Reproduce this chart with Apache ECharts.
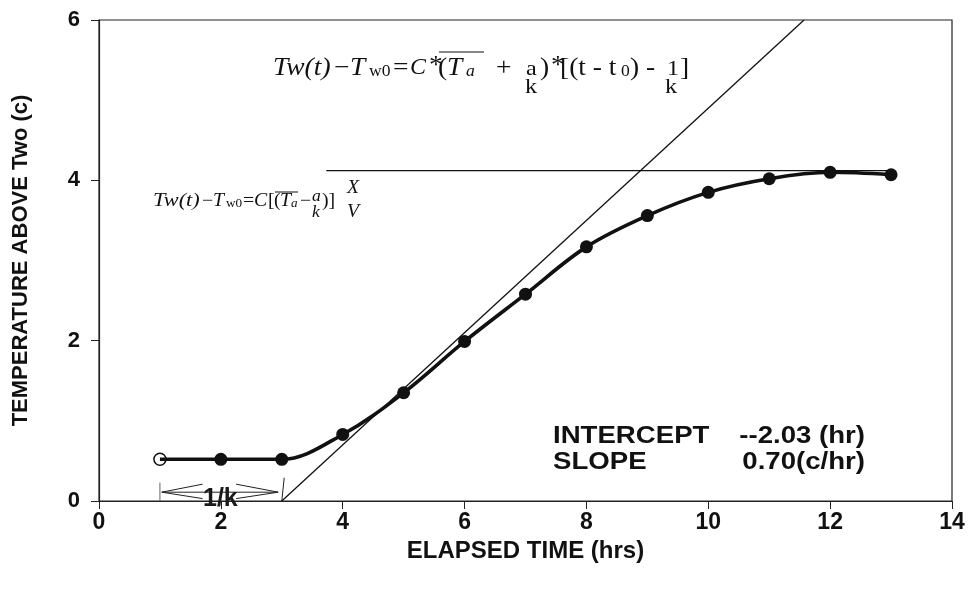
<!DOCTYPE html>
<html lang="en" style="height: 100%">
<head>
  <meta charset="utf-8">
</head>
<body style="height: 100%; margin: 0; background: #fff">
  <div id="container" style="width: 969px; height: 590px"></div>
  <script type="text/javascript" src="https://cdn.jsdelivr.net/npm/echarts@6/dist/echarts.min.js"></script>
  <script type="text/javascript">
    // measured temperatures, hourly
    const hours = [1, 2, 3, 4, 5, 6, 7, 8, 9, 10, 11, 12, 13];
    const tempAbove = [0.52, 0.52, 0.52, 0.83, 1.35, 1.99, 2.58, 3.17, 3.56, 3.85, 4.02, 4.10, 4.07];
    const xTicks = [0, 2, 4, 6, 8, 10, 12, 14];
    const yTicks = [0, 2, 4, 6];

    // fitted tangent: crosses zero at t = 3, slope 0.70 c/hr
    const tangentStart = 3;
    const tangentSlope = 0.70;
    const plateauLevel = 4.12;
    const plateauRange = [3.73, 12.95];

    // 1/k bracket under the curve
    const kFrom = 1;
    const kTo = 3;

    var dom = document.getElementById('container');
    var myChart = echarts.init(dom, null, { renderer: 'canvas' });

    const sans = "'Liberation Sans', Arial, sans-serif";
    const serif = "'Liberation Serif', 'DejaVu Serif', serif";
    const ink = '#111';

    // one glyph run of a formula, stretched a bit to match the scan
    function piece(s, x, y, size, italic, sx) {
      return {
        type: 'text',
        x: x,
        y: y,
        scaleX: sx,
        silent: true,
        style: {
          text: s,
          font: (italic ? 'italic ' : '') + size + 'px ' + serif,
          fill: ink,
          align: 'left',
          verticalAlign: 'middle'
        }
      };
    }
    function bar(x1, x2, y) {
      return {
        type: 'line',
        silent: true,
        shape: { x1: x1, y1: y, x2: x2, y2: y },
        style: { stroke: ink, lineWidth: 1 }
      };
    }

    const s1 = 1.1;
    const formulaTop = [
      piece('Tw(t)', 273, 68, 25, true, s1),
      piece('\u2212', 334, 68, 25, false, s1),
      piece('T', 350, 68, 25, true, s1),
      piece('w0', 369, 72, 16, false, s1),
      piece('=', 393, 68, 25, false, s1),
      piece('C', 410, 68, 24, true, 1),
      piece('*', 429, 66, 25, false, s1),
      piece('(', 438, 68, 25, false, s1),
      piece('T', 447, 68, 25, true, s1),
      piece('a', 466, 72, 16, true, s1),
      bar(439, 484, 52),
      piece('+', 496, 68, 25, false, s1),
      piece('a', 526, 69, 22, false, s1),
      piece('k', 525, 87, 22, false, s1),
      piece(')', 540, 68, 25, false, s1),
      piece('*', 551, 66, 25, false, s1),
      piece('[(t - t', 560, 68, 25, false, s1),
      piece('0', 621, 72, 16, false, s1),
      piece(') - ', 630, 68, 25, false, s1),
      piece('1', 667, 69, 22, false, s1),
      piece('k', 665, 87, 22, false, s1),
      piece(']', 680, 68, 25, false, s1)
    ];

    const s2 = 1.1;
    const formulaLeft = [
      piece('Tw(t)', 153, 201, 18, true, 1.24),
      piece('\u2212', 202, 201, 18, false, s2),
      piece('T', 213, 201, 18, true, s2),
      piece('w0', 226, 204, 12, false, s2),
      piece('=', 243, 201, 18, false, s2),
      piece('C', 254, 201, 18, true, s2),
      piece('[', 268, 201, 18, false, s2),
      piece('(', 274, 201, 18, false, s2),
      piece('T', 280, 201, 18, true, s2),
      piece('a', 291, 204, 12, true, s2),
      bar(275, 298, 192),
      piece('\u2212', 300, 201, 18, false, s2),
      piece('a', 312, 197, 16, true, s2),
      piece('k', 312, 213, 16, true, s2),
      piece(')]', 322, 201, 18, false, s2),
      piece('X', 347, 188, 18, true, s2),
      piece('V', 347, 212, 18, true, s2)
    ];

    const tangentEnd = tangentStart + 6 / tangentSlope;
    const labelFont = { fontFamily: sans, fontWeight: 'bold', color: ink };

    const option = {
      animation: false,
      backgroundColor: '#fff',
      grid: {
        left: 99,
        right: 17,
        top: 20,
        bottom: 89,
        show: true,
        borderColor: '#222',
        borderWidth: 1.2,
        containLabel: false,
        outerBoundsMode: 'none'
      },
      xAxis: {
        type: 'value',
        min: xTicks[0],
        max: xTicks[xTicks.length - 1],
        interval: 2,
        name: 'ELAPSED TIME (hrs)',
        nameLocation: 'middle',
        nameGap: 36,
        nameTextStyle: Object.assign({ fontSize: 24 }, labelFont),
        axisLine: { lineStyle: { color: '#222', width: 1.2 } },
        axisTick: { inside: false, length: 8, lineStyle: { color: '#222' } },
        axisLabel: Object.assign({ fontSize: 23, margin: 10 }, labelFont),
        splitLine: { show: false }
      },
      yAxis: {
        type: 'value',
        min: yTicks[0],
        max: yTicks[yTicks.length - 1],
        interval: 2,
        name: 'TEMPERATURE ABOVE Two (c)',
        nameLocation: 'middle',
        nameGap: 67,
        nameTextStyle: Object.assign({ fontSize: 22 }, labelFont),
        axisLine: { lineStyle: { color: '#222', width: 1.2 } },
        axisTick: { inside: false, length: 8, lineStyle: { color: '#222' } },
        axisLabel: Object.assign({ fontSize: 22, margin: 19 }, labelFont),
        splitLine: { show: false }
      },
      series: [
        {
          type: 'line',
          name: 'tangent',
          data: [[tangentStart, 0], [tangentEnd, 6]],
          symbol: 'none',
          lineStyle: { color: ink, width: 1.3 },
          z: 2
        },
        {
          type: 'line',
          name: 'plateau',
          data: [[plateauRange[0], plateauLevel], [plateauRange[1], plateauLevel]],
          symbol: 'none',
          lineStyle: { color: ink, width: 1.2 },
          z: 2
        },
        {
          type: 'line',
          name: 'measured',
          data: hours.map(function (h, i) {
            if (i === 0) {
              return {
                value: [h, tempAbove[i]],
                symbolSize: 12,
                itemStyle: { color: 'rgba(0,0,0,0)', borderColor: ink, borderWidth: 1.5 }
              };
            }
            return [h, tempAbove[i]];
          }),
          smooth: 0.35,
          symbol: 'circle',
          symbolSize: 13,
          itemStyle: { color: ink },
          lineStyle: { color: ink, width: 3.6 },
          z: 3
        },
        {
          type: 'lines',
          coordinateSystem: 'cartesian2d',
          polyline: true,
          silent: true,
          lineStyle: { color: '#222', width: 1, opacity: 1 },
          data: [
            { coords: [[kFrom, 0], [kFrom, 0.23]], lineStyle: { color: '#666' } },
            { coords: [[kTo, 0], [kTo + 0.04, 0.29]] },
            { coords: [[kFrom + 0.03, 0.11], [kTo - 0.06, 0.11]] },
            { coords: [[kFrom + 0.7, 0.21], [kFrom + 0.03, 0.11], [kFrom + 0.7, 0.03]] },
            { coords: [[kTo - 0.75, 0.21], [kTo - 0.06, 0.11], [kTo - 0.75, 0.03]] }
          ],
          z: 2
        }
      ],
      graphic: [].concat(formulaTop, formulaLeft, [
        {
          type: 'text', x: 203, y: 487, silent: true, z: 10,
          style: { text: '1/k', font: 'bold 25px ' + sans, fill: '#1a1a1a' }
        },
        {
          type: 'text', x: 553, y: 424, scaleX: 1.2, silent: true,
          style: { text: 'INTERCEPT\nSLOPE', font: 'bold 23px ' + sans, fill: ink, lineHeight: 26 }
        },
        {
          type: 'text', x: 865, y: 424, scaleX: 1.2, silent: true,
          style: { text: '--2.03 (hr)\n0.70(c/hr)', font: 'bold 23px ' + sans, fill: ink, lineHeight: 26, align: 'right' }
        }
      ])
    };

    myChart.setOption(option);
    window.addEventListener('resize', myChart.resize);
  </script>
</body>
</html>
